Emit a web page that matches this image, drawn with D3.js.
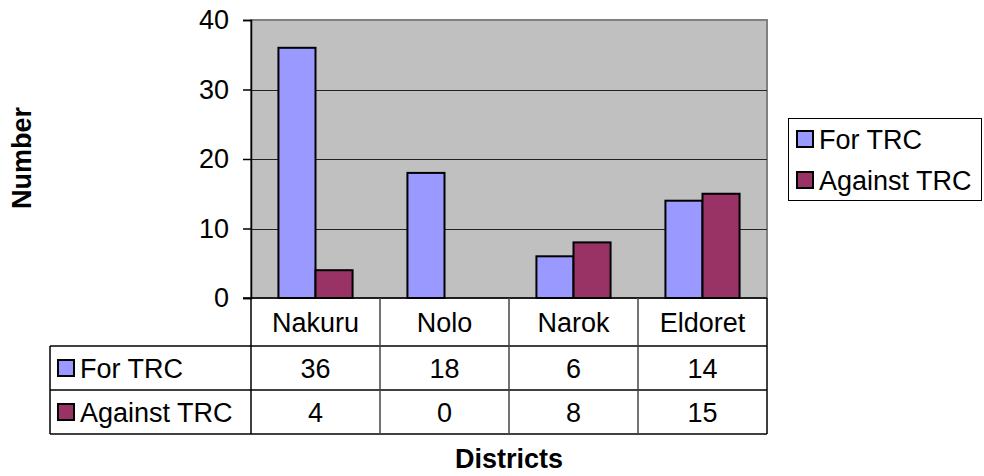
<!DOCTYPE html>
<html>
<head>
<meta charset="utf-8">
<script src="https://cdn.jsdelivr.net/npm/d3@7"></script>
<style>
  body { margin: 0; background: #fff; }
  svg { display: block; font-family: Arial, "Liberation Sans", sans-serif; }
</style>
</head>
<body>
<svg id="chart"></svg>
<script>
// chart data
let districts = ["Nakuru", "Nolo", "Narok", "Eldoret"];
let seriesNames = ["For TRC", "Against TRC"];
let forTRC = [36, 18, 6, 14];
let againstTRC = [4, 0, 8, 15];
let yTicks = [0, 10, 20, 30, 40];

let colors = ["#9999ff", "#993366"];
let seriesValues = [forTRC, againstTRC];

let width = 984, height = 476;
let svg = d3.select("#chart")
    .attr("width", width)
    .attr("height", height);

let plot = { left: 251, right: 767, top: 20, bottom: 298 };
let rowH = [48, 44, 44];
let tableLeft = 50;
let fontSize = 27;

let xScale = d3.scaleBand()
    .domain(districts)
    .range([plot.left, plot.right]);

let xInner = d3.scaleBand()
    .domain(seriesNames)
    .range([0, xScale.bandwidth()])
    .paddingInner(0)
    .paddingOuter(0.74);

let yScale = d3.scaleLinear()
    .domain([0, 40])
    .range([plot.bottom, plot.top]);

// plot background
svg.append("rect")
    .attr("x", plot.left)
    .attr("y", plot.top)
    .attr("width", plot.right - plot.left)
    .attr("height", plot.bottom - plot.top)
    .attr("fill", "#c0c0c0")
    .attr("stroke", "#808080")
    .attr("stroke-width", 2);

// gridlines
svg.append("g")
    .selectAll("line")
    .data(yTicks.filter(d => d > 0 && d < 40))
    .enter()
    .append("line")
    .attr("x1", plot.left)
    .attr("x2", plot.right)
    .attr("y1", d => Math.round(yScale(d)) + 0.5)
    .attr("y2", d => Math.round(yScale(d)) + 0.5)
    .attr("stroke", "#222")
    .attr("stroke-width", 1);

// y axis
let yAxis = d3.axisLeft(yScale)
    .tickValues(yTicks)
    .tickSize(8)
    .tickPadding(14);

let yg = svg.append("g")
    .attr("transform", "translate(" + plot.left + ",0)")
    .call(yAxis);
yg.select(".domain").attr("stroke", "#000").attr("stroke-width", 1.5);
yg.selectAll(".tick line").attr("stroke", "#000").attr("stroke-width", 1.5);
yg.selectAll(".tick text")
    .attr("font-size", fontSize)
    .attr("font-family", "Arial, 'Liberation Sans', sans-serif")
    .attr("fill", "#000");

// bars
let groups = svg.append("g")
    .selectAll("g")
    .data(districts)
    .enter()
    .append("g")
    .attr("transform", d => "translate(" + xScale(d) + ",0)");

groups.selectAll("rect")
    .data((d, i) => seriesNames.map((s, j) => ({ series: s, value: seriesValues[j][i], color: colors[j] })))
    .enter()
    .append("rect")
    .filter(d => d.value > 0)
    .attr("x", d => xInner(d.series))
    .attr("width", xInner.bandwidth())
    .attr("y", d => yScale(d.value))
    .attr("height", d => plot.bottom - yScale(d.value))
    .attr("fill", d => d.color)
    .attr("stroke", "#000")
    .attr("stroke-width", 2);

// x axis line (bottom of plot)
svg.append("line")
    .attr("x1", plot.left - 8)
    .attr("x2", plot.right)
    .attr("y1", plot.bottom)
    .attr("y2", plot.bottom)
    .attr("stroke", "#000")
    .attr("stroke-width", 1.5);

// data table
let tableTop = plot.bottom;
let rowTops = [tableTop, tableTop + rowH[0], tableTop + rowH[0] + rowH[1]];
let tableBottom = rowTops[2] + rowH[2];
let table = svg.append("g");

// horizontal lines
[rowTops[1], rowTops[2], tableBottom].forEach(y => {
    table.append("line")
        .attr("x1", tableLeft)
        .attr("x2", plot.right)
        .attr("y1", y)
        .attr("y2", y)
        .attr("stroke", "#000")
        .attr("stroke-width", 1.5);
});
// vertical lines
table.append("line")
    .attr("x1", tableLeft).attr("x2", tableLeft)
    .attr("y1", rowTops[1]).attr("y2", tableBottom)
    .attr("stroke", "#000").attr("stroke-width", 1.5);
districts.concat(["end"]).forEach((d, i) => {
    let x = i < districts.length ? xScale(d) : plot.right;
    table.append("line")
        .attr("x1", x).attr("x2", x)
        .attr("y1", tableTop).attr("y2", tableBottom)
        .attr("stroke", i === 0 || i === districts.length ? "#000" : "#444")
        .attr("stroke-width", 1.5);
});

// category labels
table.selectAll(".cat")
    .data(districts)
    .enter()
    .append("text")
    .attr("x", d => xScale(d) + xScale.bandwidth() / 2)
    .attr("y", rowTops[0] + rowH[0] / 2 + 1)
    .attr("text-anchor", "middle")
    .attr("dominant-baseline", "central")
    .attr("font-size", fontSize)
    .text(d => d);

// value rows
seriesNames.forEach((s, j) => {
    let cy = rowTops[j + 1] + rowH[j + 1] / 2;
    table.append("rect")
        .attr("x", 58)
        .attr("y", cy - 8)
        .attr("width", 16)
        .attr("height", 16)
        .attr("fill", colors[j])
        .attr("stroke", "#000")
        .attr("stroke-width", 2);
    table.append("text")
        .attr("x", 80)
        .attr("y", cy + 1)
        .attr("dominant-baseline", "central")
        .attr("font-size", fontSize)
        .text(s);
    table.selectAll(".v" + j)
        .data(seriesValues[j])
        .enter()
        .append("text")
        .attr("x", (d, i) => xScale(districts[i]) + xScale.bandwidth() / 2)
        .attr("y", cy + 1)
        .attr("text-anchor", "middle")
        .attr("dominant-baseline", "central")
        .attr("font-size", fontSize)
        .text(d => d);
});

// legend
let legend = svg.append("g");
legend.append("rect")
    .attr("x", 788.5)
    .attr("y", 118.5)
    .attr("width", 193)
    .attr("height", 82)
    .attr("fill", "#fff")
    .attr("stroke", "#000")
    .attr("stroke-width", 1);
seriesNames.forEach((s, j) => {
    let cy = 139 + j * 41;
    legend.append("rect")
        .attr("x", 797)
        .attr("y", cy - 8)
        .attr("width", 16)
        .attr("height", 16)
        .attr("fill", colors[j])
        .attr("stroke", "#000")
        .attr("stroke-width", 2);
    legend.append("text")
        .attr("x", 819)
        .attr("y", cy + 1)
        .attr("dominant-baseline", "central")
        .attr("font-size", fontSize)
        .text(s);
});

// axis titles
svg.append("text")
    .attr("x", 509)
    .attr("y", 468)
    .attr("text-anchor", "middle")
    .attr("font-size", fontSize)
    .attr("font-weight", "bold")
    .text("Districts");

svg.append("text")
    .attr("transform", "translate(31,158) rotate(-90)")
    .attr("text-anchor", "middle")
    .attr("font-size", fontSize)
    .attr("font-weight", "bold")
    .text("Number");
</script>
</body>
</html>
